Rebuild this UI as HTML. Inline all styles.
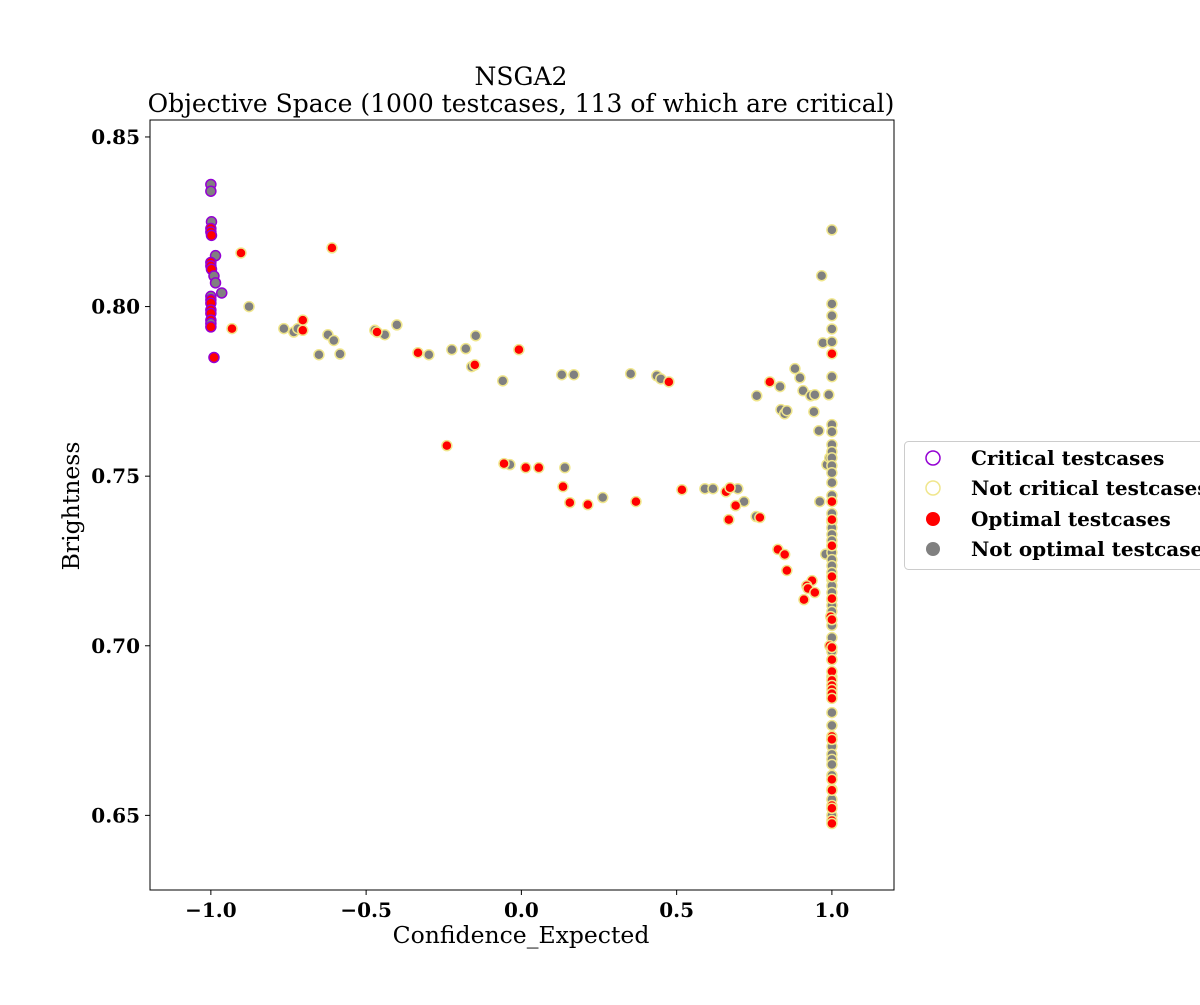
<!DOCTYPE html>
<html><head><meta charset="utf-8"><style>
body{margin:0;background:#fff;}
svg text{font-family:"DejaVu Serif","Liberation Serif",serif;}
</style></head><body>
<svg id="chart" width="1200" height="1000" viewBox="0 0 1200 1000" xmlns="http://www.w3.org/2000/svg">
<rect width="1200" height="1000" fill="#fff"/>
<text x="521" y="85" font-size="25" text-anchor="middle">NSGA2</text>
<text x="521" y="112" font-size="25" text-anchor="middle">Objective Space (1000 testcases, 113 of which are critical)</text>
<g id="marks"></g>
<rect x="150" y="120" width="744" height="770" fill="none" stroke="#000" stroke-width="1"/>
<g id="axes"></g>
<text x="521" y="943" font-size="23.5" text-anchor="middle">Confidence_Expected</text>
<text transform="translate(79,506) rotate(-90)" font-size="23.5" text-anchor="middle">Brightness</text>
<g>
<rect x="904.5" y="441.5" width="310" height="128" rx="4" fill="#fff" stroke="#ccc"/>
<g><circle cx="933" cy="458" r="7" fill="none" stroke="#9400d3" stroke-width="1.5"/><text x="971" y="465" font-size="20" font-weight="bold">Critical testcases</text></g>
<g><circle cx="933" cy="488" r="7" fill="none" stroke="#f0e68c" stroke-width="1.5"/><text x="971" y="495" font-size="20" font-weight="bold">Not critical testcases</text></g>
<g><circle cx="933" cy="519" r="7" fill="#ff0000"/><text x="971" y="526" font-size="20" font-weight="bold">Optimal testcases</text></g>
<g><circle cx="933" cy="549" r="7" fill="#808080"/><text x="971" y="556" font-size="20" font-weight="bold">Not optimal testcases</text></g>
</g>
</svg>
<script>
const xTicks=[-1.0,-0.5,0.0,0.5,1.0];
const xTickLabels=["\u22121.0","\u22120.5","0.0","0.5","1.0"];
const yTicks=[0.65,0.70,0.75,0.80,0.85];
const yTickLabels=["0.65","0.70","0.75","0.80","0.85"];
// critical points (purple edge) at x≈-1
const critX=[-1,-1,-0.998,-1,-1,-0.998,-0.985,-1,-1,-0.998,-0.99,-0.985,-0.965,-1,-1,-1,-1,-1,-1,-1,-1,-0.99];
const critY=[0.836,0.834,0.825,0.823,0.822,0.821,0.815,0.813,0.812,0.811,0.809,0.807,0.804,0.803,0.802,0.801,0.799,0.798,0.796,0.795,0.794,0.785];
const critOpt=[0,0,0,1,1,1,0,1,1,1,0,0,0,0,1,1,1,1,1,0,1,1];
// non-critical optimal (red)
const optX=[-0.903,-0.932,-0.704,-0.704,-0.61,-0.465,-0.333,-0.15,-0.008,-0.24,-0.056,0.056,0.014,0.475,0.134,0.156,0.214,0.369,0.517,0.659,0.672,0.668,0.69,0.768,0.8,0.826,0.848,0.855,0.936,0.919,0.91,0.923,0.945,0.993,0.996];
const optY=[0.8158,0.7935,0.796,0.793,0.8173,0.7925,0.7864,0.7828,0.7873,0.759,0.7537,0.7525,0.7525,0.7778,0.7469,0.7422,0.7416,0.7425,0.746,0.7454,0.7466,0.7372,0.7413,0.7378,0.7778,0.7284,0.7269,0.7222,0.7192,0.7177,0.7136,0.7169,0.7157,0.700,0.7086];
const optColY=[0.7861,0.7425,0.7372,0.7295,0.7204,0.7139,0.7077,0.6995,0.6959,0.6924,0.6898,0.6883,0.6871,0.6859,0.6845,0.6733,0.6724,0.6606,0.6574,0.6529,0.6521,0.6485,0.6476];
// non-critical non-optimal (grey)
const greyX=[-0.877,-0.765,-0.733,-0.72,-0.652,-0.623,-0.604,-0.584,-0.472,-0.44,-0.401,-0.298,-0.224,-0.179,-0.16,-0.147,-0.06,-0.037,0.13,0.169,0.352,0.436,0.449,0.14,0.262,0.591,0.617,0.697,0.717,0.756,0.758,0.833,0.836,0.848,0.855,0.881,0.897,0.907,0.932,0.945,0.942,0.958,0.961,0.967,0.971,0.99,0.984,0.993,0.98];
const greyY=[0.800,0.7935,0.7925,0.7935,0.7858,0.7917,0.790,0.786,0.793,0.7917,0.7946,0.7858,0.7873,0.7876,0.7823,0.7914,0.7781,0.7534,0.7799,0.7799,0.7802,0.7796,0.7787,0.7525,0.7437,0.7463,0.7463,0.7463,0.7425,0.7381,0.7737,0.7764,0.7696,0.7684,0.7693,0.7817,0.779,0.7752,0.7737,0.774,0.769,0.7634,0.7425,0.8091,0.7893,0.774,0.7534,0.7554,0.727];
const greyColY=[0.8226,0.8008,0.7973,0.7934,0.7896,0.7793,0.7652,0.7631,0.7593,0.7572,0.7554,0.7531,0.751,0.7481,0.7443,0.7425,0.739,0.7366,0.7348,0.7328,0.731,0.7295,0.7275,0.7254,0.7236,0.7216,0.7195,0.7177,0.7157,0.7136,0.7119,0.7101,0.7077,0.706,0.7024,0.6983,0.6959,0.6909,0.6883,0.6848,0.6803,0.6765,0.6724,0.6703,0.668,0.6665,0.665,0.6618,0.6577,0.6547,0.65];

const X0=150,X1=894,Y0=120,Y1=890;
const xMin=-1.196,xMax=1.2,yMin=0.628,yMax=0.855;
function sx(v){return X0+(v-xMin)/(xMax-xMin)*(X1-X0);}
function sy(v){return Y1-(v-yMin)/(yMax-yMin)*(Y1-Y0);}
const NS="http://www.w3.org/2000/svg";
const marks=document.getElementById('marks');
function pt(x,y,fill,edge,name){
  const c=document.createElementNS(NS,'circle');
  c.setAttribute('cx',sx(x));c.setAttribute('cy',sy(y));c.setAttribute('r',5);
  c.setAttribute('fill',fill);c.setAttribute('stroke',edge);c.setAttribute('stroke-width',1.5);
  
  
  marks.appendChild(c);
}
greyX.forEach((x,i)=>pt(x,greyY[i],'#808080','#f0e68c','not-optimal-point'));
greyColY.forEach(y=>pt(1.0,y,'#808080','#f0e68c','not-optimal-point'));
optX.forEach((x,i)=>pt(x,optY[i],'#ff0000','#f0e68c','optimal-point'));
optColY.forEach(y=>pt(1.0,y,'#ff0000','#f0e68c','optimal-point'));
critX.forEach((x,i)=>pt(x,critY[i],critOpt[i]?'#ff0000':'#808080','#9400d3','critical-point'));

const axes=document.getElementById('axes');
xTicks.forEach((v,i)=>{
  const l=document.createElementNS(NS,'line');
  l.setAttribute('x1',sx(v));l.setAttribute('x2',sx(v));l.setAttribute('y1',Y1);l.setAttribute('y2',Y1+5);l.setAttribute('stroke','#000');
  
  
  axes.appendChild(l);
  const t=document.createElementNS(NS,'text');
  t.setAttribute('x',sx(v));t.setAttribute('y',Y1+27);t.setAttribute('font-size','20');t.setAttribute('font-weight','bold');t.setAttribute('text-anchor','middle');
  t.textContent=xTickLabels[i];
  
  
  axes.appendChild(t);
});
yTicks.forEach((v,i)=>{
  const l=document.createElementNS(NS,'line');
  l.setAttribute('x1',X0-5);l.setAttribute('x2',X0);l.setAttribute('y1',sy(v));l.setAttribute('y2',sy(v));l.setAttribute('stroke','#000');
  
  
  axes.appendChild(l);
  const t=document.createElementNS(NS,'text');
  t.setAttribute('x',X0-10);t.setAttribute('y',sy(v)+7);t.setAttribute('font-size','20');t.setAttribute('font-weight','bold');t.setAttribute('text-anchor','end');
  t.textContent=yTickLabels[i];
  
  
  axes.appendChild(t);
});
</script>
</body></html>
